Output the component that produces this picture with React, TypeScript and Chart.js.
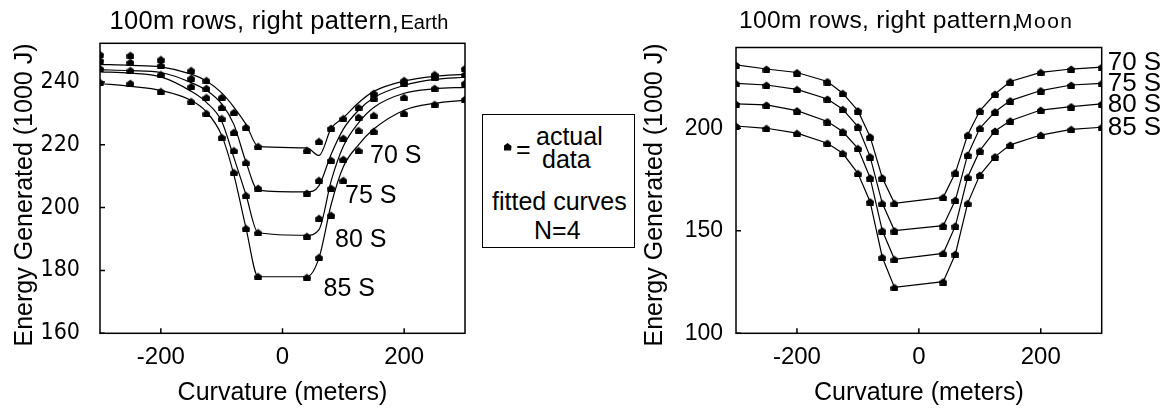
import React, { useEffect, useRef } from "react";
import { Chart, registerables } from "chart.js";

Chart.register(...registerables);

// ---------- data ----------
const CURVATURE = [-300, -250, -200, -150, -125, -100, -80, -60, -40, 40, 60, 80, 100, 125, 150, 200, 250, 300];
const SERIES_NAMES = ["70 S", "75 S", "80 S", "85 S"];

// Earth: measured points
const EARTH_70 = [248.8, 248.5, 247.2, 243.7, 240.5, 235.1, 230.3, 225.6, 219.5, 218.2, 221.1, 225.3, 228.4, 231.9, 236.4, 240.5, 242.4, 244.3];
const EARTH_75 = [246.9, 246.3, 245.3, 241.2, 238.0, 231.9, 224.0, 214.4, 206.2, 204.6, 208.7, 215.1, 222.1, 228.8, 234.8, 239.6, 241.5, 242.4];
const EARTH_80 = [244.3, 243.7, 242.4, 238.6, 235.1, 228.4, 218.2, 203.9, 192.1, 190.9, 196.6, 206.2, 215.4, 224.6, 229.4, 235.1, 238.0, 239.6];
const EARTH_85 = [239.9, 239.6, 237.0, 233.8, 230.0, 222.4, 211.2, 193.4, 178.1, 177.8, 184.2, 197.6, 208.7, 218.2, 224.3, 230.0, 232.9, 234.5];

// Earth: fitted curves (N=4)
const EARTH_FIT_70 = [245.6, 245.3, 244.8, 242.5, 240.3, 236.5, 232.0, 226.5, 219.5, 219.0, 216.6, 225.2, 228.6, 233.4, 237.0, 240.3, 241.8, 242.4];
const EARTH_FIT_75 = [243.9, 243.6, 243.0, 239.8, 237.3, 233.0, 226.5, 214.5, 205.5, 205.0, 207.0, 217.0, 225.0, 231.0, 235.0, 238.9, 240.8, 241.5];
const EARTH_FIT_80 = [243.2, 242.8, 241.6, 237.0, 233.5, 227.5, 216.0, 204.0, 192.0, 191.2, 193.0, 208.5, 219.5, 227.0, 231.9, 236.4, 237.8, 238.3];
const EARTH_FIT_85 = [239.5, 238.6, 237.3, 234.1, 230.5, 223.0, 210.5, 193.5, 178.0, 178.0, 184.0, 201.0, 213.0, 220.0, 225.0, 231.0, 233.2, 234.2];

// Moon
const MOON_70 = [230.9, 228.9, 227.2, 222.8, 217.1, 208.6, 195.9, 175.9, 163.4, 166.3, 178.4, 196.7, 208.5, 216.7, 222.8, 227.3, 228.9, 229.8];
const MOON_75 = [221.9, 221.1, 219.0, 214.3, 209.3, 200.8, 186.2, 163.4, 150.1, 152.5, 165.0, 187.0, 200.0, 208.1, 213.5, 218.4, 221.1, 221.9];
const MOON_80 = [211.9, 211.4, 208.6, 203.3, 198.4, 190.2, 175.9, 150.1, 136.1, 139.0, 152.4, 176.1, 189.1, 198.7, 203.7, 208.9, 210.6, 211.9];
const MOON_85 = [201.1, 200.0, 197.6, 192.7, 187.8, 178.0, 164.2, 137.1, 122.4, 125.2, 138.7, 163.4, 177.2, 186.2, 191.9, 196.7, 199.5, 200.5];

const X_TICKS = [-200, 0, 200];
const EARTH_Y_TICKS = [160, 180, 200, 220, 240];
const MOON_Y_TICKS = [100, 150, 200];

const TITLE_PREFIX = "100m rows, right pattern,";
const PLACE_EARTH = "Earth";
const PLACE_MOON = "Moon";
const X_TITLE = "Curvature (meters)";
const Y_TITLE = "Energy Generated (1000 J)";

// ---------- styling ----------
const SANS = "'Liberation Sans', Arial, sans-serif";
const NARROW = "'Liberation Sans Narrow', 'Arial Narrow', 'DejaVu Sans Condensed', sans-serif";
const INK = "#000";

function makeMarker(): HTMLCanvasElement {
  const c = document.createElement("canvas");
  c.width = 8;
  c.height = 8;
  const g = c.getContext("2d")!;
  g.fillStyle = INK;
  g.beginPath();
  g.moveTo(4, 0.5);
  g.lineTo(8, 3.5);
  g.lineTo(7.5, 8);
  g.lineTo(0.5, 8);
  g.lineTo(0, 3.5);
  g.closePath();
  g.fill();
  return c;
}

const pts = (ys: number[]) => CURVATURE.map((x, i) => ({ x, y: ys[i] }));

const decorPlugin = {
  id: "decor",
  beforeDatasetsDraw(chart: any) {
    const { ctx, chartArea: a, scales } = chart;
    ctx.save();
    ctx.strokeStyle = INK;
    ctx.lineWidth = 1.5;
    ctx.strokeRect(a.left, a.top, a.right - a.left, a.bottom - a.top);
    ctx.beginPath();
    for (const t of scales.x.ticks) {
      const px = scales.x.getPixelForValue(t.value);
      ctx.moveTo(px, a.bottom);
      ctx.lineTo(px, a.bottom - 5);
    }
    for (const t of scales.y.ticks) {
      const py = scales.y.getPixelForValue(t.value);
      ctx.moveTo(a.left, py);
      ctx.lineTo(a.left + 5, py);
    }
    ctx.stroke();
    ctx.restore();
  },
  afterDraw(chart: any, _args: any, opts: any) {
    const { ctx, scales } = chart;
    for (const it of opts.texts || []) {
      ctx.save();
      ctx.fillStyle = INK;
      ctx.font = `${it.size}px ${it.family || SANS}`;
      ctx.textAlign = it.align || "left";
      ctx.textBaseline = it.baseline || "middle";
      if (it.spacing) (ctx as any).letterSpacing = `${it.spacing}px`;
      let x = it.x;
      let y = it.y;
      if (it.xUnit === "data") x = scales.x.getPixelForValue(it.x);
      if (it.xUnit === "right") x = scales.x.right + it.x;
      if (it.yUnit === "data") y = scales.y.getPixelForValue(it.y);
      ctx.translate(x, y);
      if (it.rotate) ctx.rotate(it.rotate);
      ctx.fillText(it.text, 0, 0);
      ctx.restore();
    }
  },
};

function buildConfig(p: {
  pointSets: number[][];
  fitSets: number[][] | null;
  yMin: number;
  yMax: number;
  yTicks: number[];
  top: number;
  right: number;
  yWidth: number;
  yTickFont: any;
  yTickPad: number;
  texts: any[];
}) {
  const marker = makeMarker();
  const datasets: any[] = [];
  if (p.fitSets) {
    p.fitSets.forEach((ys, i) => {
      datasets.push({
        label: SERIES_NAMES[i] + " fit",
        data: pts(ys),
        borderColor: INK,
        borderWidth: 1.2,
        pointRadius: 0,
        cubicInterpolationMode: "monotone",
        fill: false,
      });
    });
  }
  p.pointSets.forEach((ys, i) => {
    datasets.push({
      label: SERIES_NAMES[i],
      data: pts(ys),
      borderColor: INK,
      backgroundColor: INK,
      borderWidth: 1.2,
      showLine: !p.fitSets,
      tension: 0,
      pointStyle: marker,
      pointRadius: 4,
      fill: false,
    });
  });
  return {
    type: "line",
    data: { datasets },
    options: {
      responsive: false,
      animation: false,
      events: [],
      layout: { padding: { top: p.top, right: p.right, left: 0, bottom: 0 } },
      plugins: {
        legend: { display: false },
        tooltip: { enabled: false },
        title: { display: false },
        decor: { texts: p.texts },
      },
      scales: {
        x: {
          type: "linear",
          min: -300,
          max: 300,
          afterBuildTicks: (s: any) => {
            s.ticks = X_TICKS.map((v) => ({ value: v }));
          },
          afterFit: (s: any) => {
            s.height = 77.7;
          },
          grid: { display: false, drawTicks: false },
          border: { display: false },
          ticks: {
            color: INK,
            font: { family: SANS, size: 24 },
            padding: 10,
            maxRotation: 0,
            autoSkip: false,
          },
          title: {
            display: true,
            text: X_TITLE,
            color: INK,
            font: { family: SANS, size: 25 },
            padding: { top: 0, bottom: 3 },
          },
        },
        y: {
          type: "linear",
          min: p.yMin,
          max: p.yMax,
          afterBuildTicks: (s: any) => {
            s.ticks = p.yTicks.map((v) => ({ value: v }));
          },
          afterFit: (s: any) => {
            s.width = p.yWidth;
          },
          grid: { display: false, drawTicks: false },
          border: { display: false },
          ticks: { color: INK, font: p.yTickFont, padding: p.yTickPad, autoSkip: false },
        },
      },
    },
    plugins: [decorPlugin],
  };
}

function Panel({ width, left, config }: { width: number; left: number; config: () => any }) {
  const ref = useRef<HTMLCanvasElement>(null);
  useEffect(() => {
    const chart = new Chart(ref.current!, config());
    return () => chart.destroy();
  }, []);
  return (
    <canvas
      ref={ref}
      width={width}
      height={411}
      style={{ position: "absolute", left, top: 0, width, height: 411 }}
    />
  );
}

const earthConfig = () =>
  buildConfig({
    pointSets: [EARTH_70, EARTH_75, EARTH_80, EARTH_85],
    fitSets: [EARTH_FIT_70, EARTH_FIT_75, EARTH_FIT_80, EARTH_FIT_85],
    yMin: 160,
    yMax: 252.3,
    yTicks: EARTH_Y_TICKS,
    top: 43.3,
    right: 15,
    yWidth: 100,
    yTickFont: { family: NARROW, size: 23 },
    yTickPad: 20,
    texts: [
      { text: TITLE_PREFIX, x: 109.5, y: 29.3, size: 25.5, baseline: "alphabetic", spacing: 0.3 },
      { text: PLACE_EARTH, x: 400.5, y: 28.5, size: 20, baseline: "alphabetic" },
      { text: Y_TITLE, x: 25, y: 195, size: 25, align: "center", rotate: -Math.PI / 2 },
      { text: SERIES_NAMES[0], x: 144, y: 216.5, xUnit: "data", yUnit: "data", size: 25 },
      { text: SERIES_NAMES[1], x: 102.8, y: 203.8, xUnit: "data", yUnit: "data", size: 25 },
      { text: SERIES_NAMES[2], x: 86.4, y: 189.7, xUnit: "data", yUnit: "data", size: 25 },
      { text: SERIES_NAMES[3], x: 67.5, y: 174.0, xUnit: "data", yUnit: "data", size: 25 },
    ],
  });

const moonConfig = () =>
  buildConfig({
    pointSets: [MOON_70, MOON_75, MOON_80, MOON_85],
    fitSets: null,
    yMin: 100,
    yMax: 239.4,
    yTicks: MOON_Y_TICKS,
    top: 47.5,
    right: 65.3,
    yWidth: 106,
    yTickFont: { family: SANS, size: 23 },
    yTickPad: 13,
    texts: [
      { text: TITLE_PREFIX, x: 109, y: 28.3, size: 24.6, baseline: "alphabetic", spacing: 0.3 },
      { text: PLACE_MOON, x: 385, y: 28.3, size: 21, baseline: "alphabetic", spacing: 1.5 },
      { text: Y_TITLE, x: 25, y: 195, size: 25, align: "center", rotate: -Math.PI / 2 },
      { text: SERIES_NAMES[0], x: 6, y: 232, xUnit: "right", yUnit: "data", size: 26 },
      { text: SERIES_NAMES[1], x: 6, y: 221.8, xUnit: "right", yUnit: "data", size: 26 },
      { text: SERIES_NAMES[2], x: 6, y: 211.5, xUnit: "right", yUnit: "data", size: 26 },
      { text: SERIES_NAMES[3], x: 6, y: 200.2, xUnit: "right", yUnit: "data", size: 26 },
    ],
  });

const legendText: React.CSSProperties = {
  position: "absolute",
  fontFamily: SANS,
  fontSize: 25,
  lineHeight: "25px",
  whiteSpace: "nowrap",
  color: INK,
};

export default function App() {
  return (
    <div style={{ position: "fixed", left: 0, top: 0, width: 1167, height: 411, background: "#fff", overflow: "hidden" }}>
      <Panel width={480} left={0} config={earthConfig} />
      <Panel width={537} left={630} config={moonConfig} />
      <div
        style={{
          position: "absolute",
          left: 482,
          top: 114,
          width: 151,
          height: 132,
          border: "1.5px solid #000",
          background: "#fff",
          zIndex: 2,
        }}
      />
      <div style={{ position: "absolute", left: 0, top: 0, width: 1167, height: 411, zIndex: 3 }}>
        <div
          style={{
            position: "absolute",
            left: 503.5,
            top: 143,
            width: 8,
            height: 7.5,
            background: INK,
            clipPath: "polygon(50% 0, 100% 40%, 95% 100%, 5% 100%, 0 40%)",
          }}
        />
        <span style={{ ...legendText, left: 516, top: 137 }}>=</span>
        <span style={{ ...legendText, left: 536, top: 124 }}>actual</span>
        <span style={{ ...legendText, left: 542, top: 147 }}>data</span>
        <span style={{ ...legendText, left: 492, top: 189 }}>fitted curves</span>
        <span style={{ ...legendText, left: 534, top: 218 }}>N=4</span>
      </div>
    </div>
  );
}
